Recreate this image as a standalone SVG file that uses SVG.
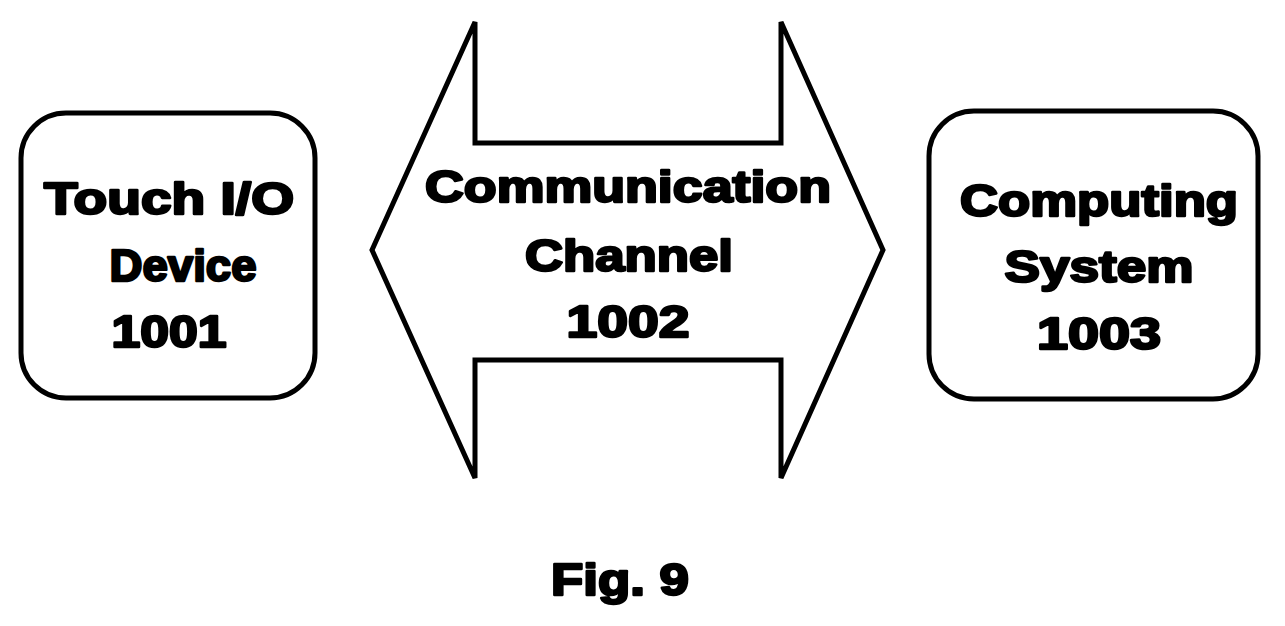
<svg xmlns="http://www.w3.org/2000/svg" width="1285" height="626" viewBox="0 0 1285 626">
<style>
.box{fill:#fff;stroke:#000;stroke-width:5}
.t{font-family:"Liberation Sans",Arial,sans-serif;font-weight:bold;font-size:45px;text-anchor:middle;fill:#000;stroke:#000;stroke-width:2.5;stroke-linejoin:round}
</style>
<rect width="1285" height="626" fill="#fff"/>
<g id="connectors">
<g id="channel">
<path class="box" d="M372,250 L475,22 L475,143 L781,143 L781,22 L883,250 L781,478 L781,360 L475,360 L475,478 Z"/>
<text class="t" x="628" y="202" textLength="406" lengthAdjust="spacingAndGlyphs">Communication</text>
<text class="t" x="629" y="271" textLength="208" lengthAdjust="spacingAndGlyphs">Channel</text>
<text class="t" x="628" y="337" textLength="123" lengthAdjust="spacingAndGlyphs">1002</text>
</g>
</g>
<g id="touch">
<rect class="box" x="21" y="113" width="294" height="285" rx="45"/>
<text class="t" x="169" y="214" textLength="250" lengthAdjust="spacingAndGlyphs">Touch I/O</text>
<text class="t" x="183" y="281" textLength="147" lengthAdjust="spacingAndGlyphs">Device</text>
<text class="t" x="169" y="347" textLength="115" lengthAdjust="spacingAndGlyphs">1001</text>
</g>
<g id="computing">
<rect class="box" x="929" y="111" width="329" height="288" rx="45"/>
<text class="t" x="1099" y="216" textLength="278" lengthAdjust="spacingAndGlyphs">Computing</text>
<text class="t" x="1099" y="282" textLength="189" lengthAdjust="spacingAndGlyphs">System</text>
<text class="t" x="1099" y="349" textLength="124" lengthAdjust="spacingAndGlyphs">1003</text>
</g>
<text class="t" x="620" y="595" textLength="138" lengthAdjust="spacingAndGlyphs">Fig. 9</text>
</svg>
